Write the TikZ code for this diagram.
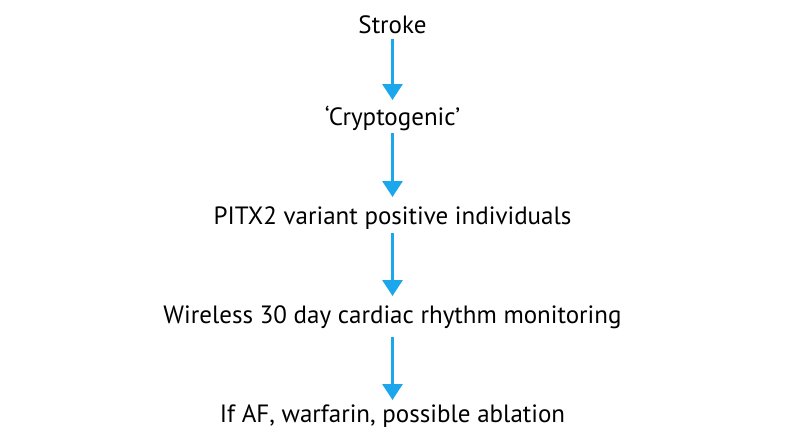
\documentclass[tikz,border=0pt]{standalone}
\usepackage{fontspec}
\setmainfont{PT Sans}
\usetikzlibrary{arrows.meta}

\definecolor{flowblue}{RGB}{28,167,236}

\begin{document}
\begin{tikzpicture}[x=1pt,y=-1pt,
    step text/.style={anchor=base,inner sep=0pt,font=\fontsize{25}{29}\selectfont},
    flow/.style={flowblue,line width=3pt,-{Triangle[width=20pt,length=16pt]}}]
    \useasboundingbox (0,0) rectangle (785,439);
    \node[step text] (stroke) at (392.5,33) {Stroke};
    \node[step text] (crypto) at (392.5,125) {`Cryptogenic'};
    \node[step text] (pitx) at (392.5,224) {PITX2 variant positive individuals};
    \node[step text] (wireless) at (392.5,323) {Wireless 30 day cardiac rhythm monitoring};
    \node[step text] (ifaf) at (392.5,422) {If AF, warfarin, possible ablation};
    \draw[flow] ([yshift=-6pt]stroke.base) -- ([yshift=25pt]crypto.base);
    \draw[flow] ([yshift=-8pt]crypto.base) -- ([yshift=27pt]pitx.base);
    \draw[flow] ([yshift=-9pt]pitx.base) -- ([yshift=27pt]wireless.base);
    \draw[flow] ([yshift=-14pt]wireless.base) -- ([yshift=22pt]ifaf.base);
\end{tikzpicture}
\end{document}
